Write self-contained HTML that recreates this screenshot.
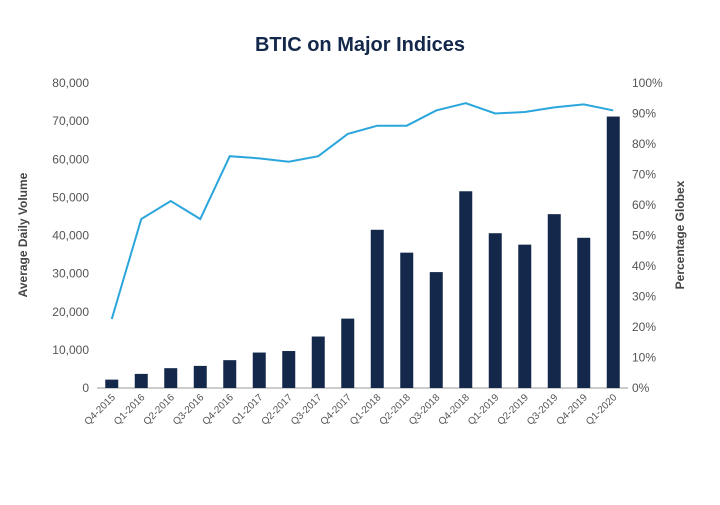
<!DOCTYPE html>
<html><head><meta charset="utf-8">
<style>
body{margin:0;background:#fff;font-family:"Liberation Sans",sans-serif;}
svg text{font-family:"Liberation Sans",sans-serif;}
</style></head>
<body>
<svg id="chart" width="720" height="500">
<text x="360" y="51" text-anchor="middle" font-size="20" font-weight="bold" fill="#14284b">BTIC on Major Indices</text>
<text transform="translate(27,235) rotate(-90)" text-anchor="middle" font-size="12" font-weight="bold" fill="#444">Average Daily Volume</text>
<text transform="translate(684,235) rotate(-90)" text-anchor="middle" font-size="12" font-weight="bold" fill="#444">Percentage Globex</text>
<g id="axes"></g><g id="bars"></g><g id="line"></g>
</svg>
<script>
const categories=["Q4-2015","Q1-2016","Q2-2016","Q3-2016","Q4-2016","Q1-2017","Q2-2017","Q3-2017","Q4-2017","Q1-2018","Q2-2018","Q3-2018","Q4-2018","Q1-2019","Q2-2019","Q3-2019","Q4-2019","Q1-2020"];
const volume=[2200,3700,5200,5800,7300,9300,9700,13500,18200,41500,35500,30400,51600,40600,37600,45600,39400,71200];
const pctGlobex=[22.6,55.4,61.3,55.4,76,75.3,74.2,76,83.3,86,86,91,93.4,90,90.5,92,93,91];
const leftTicks=[0,10000,20000,30000,40000,50000,60000,70000,80000];
const rightTicks=[0,10,20,30,40,50,60,70,80,90,100];
const NS="http://www.w3.org/2000/svg";
const X0=97,X1=628,Y0=388,Y1=83;
const step=(X1-X0)/categories.length;
const xS=i=>X0+step*(i+0.5);
const yL=v=>Y0-(v/80000)*(Y0-Y1);
const yR=v=>Y0-(v/100)*(Y0-Y1);
function mk(t,a,p){const e=document.createElementNS(NS,t);for(const k in a)e.setAttribute(k,a[k]);p.appendChild(e);return e;}
const ax=document.getElementById('axes');
const xl=mk('line',{x1:X0,x2:X1,y1:Y0,y2:Y0,stroke:'#999','stroke-width':1},ax);


leftTicks.forEach(v=>{const t=mk('text',{x:X0-8,y:yL(v)+4,'text-anchor':'end','font-size':12,fill:'#555'},ax);t.textContent=v.toLocaleString('en-US');

});
rightTicks.forEach(v=>{const t=mk('text',{x:X1+4,y:yR(v)+4,'font-size':12,fill:'#555'},ax);t.textContent=v+'%';

});
categories.forEach((c,i)=>{const x=xS(i);const t=mk('text',{x:x+4,y:Y0+10,'text-anchor':'end','font-size':10,fill:'#555',transform:`rotate(-45 ${x+4} ${Y0+10})`},ax);t.textContent=c;

});
const bg=document.getElementById('bars');
volume.forEach((v,i)=>{const r=mk('rect',{x:xS(i)-6.5,y:yL(v),width:13,height:Y0-yL(v),fill:'#14284b'},bg);

});
const lg=document.getElementById('line');
const pl=mk('polyline',{points:pctGlobex.map((v,i)=>xS(i)+','+yR(v)).join(' '),fill:'none',stroke:'#2ba6dc','stroke-width':2},lg);


</script>
</body></html>
